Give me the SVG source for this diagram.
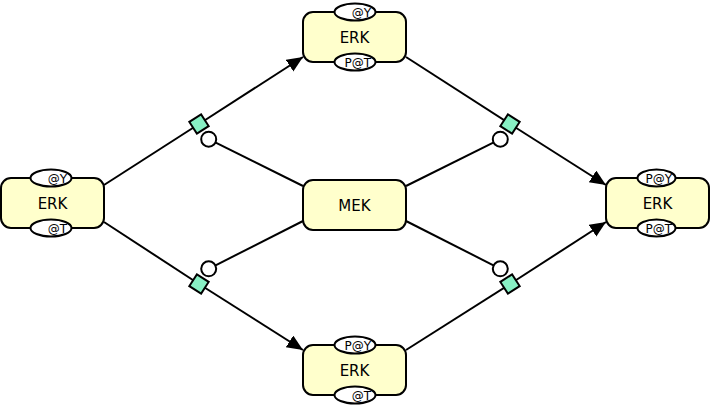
<svg xmlns="http://www.w3.org/2000/svg" width="710" height="406" viewBox="0 0 710 406">
<style>
.box{fill:#ffffcc;stroke:#000;stroke-width:2}
.sv{fill:#fff;stroke:#000;stroke-width:2}
.lbl{font-family:"DejaVu Sans",sans-serif;font-size:15px;text-anchor:middle;fill:#000}
.svt{font-family:"DejaVu Sans",sans-serif;font-size:12px;text-anchor:end;fill:#000}
.arc{stroke:#000;stroke-width:2;fill:none}
.proc{fill:#88f0c4;stroke:#000;stroke-width:2}
.cat{fill:#fff;stroke:#000;stroke-width:2}
</style>
<defs>
<marker id="arr" markerUnits="userSpaceOnUse" markerWidth="18" markerHeight="16" refX="16" refY="7" orient="auto">
<path d="M0,0 L16,7 L0,14 z" fill="#000"/>
</marker>
</defs>
<g id="connectors">
<line class="arc" x1="104" y1="185" x2="199" y2="124"/>
<line class="arc" x1="199" y1="124" x2="303" y2="57" marker-end="url(#arr)"/>
<line class="arc" x1="104" y1="222" x2="199" y2="284"/>
<line class="arc" x1="199" y1="284" x2="303" y2="350" marker-end="url(#arr)"/>
<line class="arc" x1="406" y1="57" x2="510" y2="124"/>
<line class="arc" x1="510" y1="124" x2="606" y2="185" marker-end="url(#arr)"/>
<line class="arc" x1="406" y1="350" x2="510" y2="284"/>
<line class="arc" x1="510" y1="284" x2="606" y2="222" marker-end="url(#arr)"/>
<line class="arc" x1="303" y1="186" x2="208.7" y2="139.2"/>
<line class="arc" x1="303" y1="221" x2="208.7" y2="268.8"/>
<line class="arc" x1="406" y1="186" x2="500.3" y2="139.2"/>
<line class="arc" x1="406" y1="221" x2="500.3" y2="268.8"/>
<circle class="cat" cx="208.7" cy="139.2" r="7.5"/>
<circle class="cat" cx="208.7" cy="268.8" r="7.5"/>
<circle class="cat" cx="500.3" cy="139.2" r="7.5"/>
<circle class="cat" cx="500.3" cy="268.8" r="7.5"/>
</g>
<g id="process1"><rect class="proc" x="-7" y="-7" width="14" height="14" transform="translate(199,124) rotate(-32.7)"/></g>
<g id="process2"><rect class="proc" x="-7" y="-7" width="14" height="14" transform="translate(199,284) rotate(32.7)"/></g>
<g id="process3"><rect class="proc" x="-7" y="-7" width="14" height="14" transform="translate(510,124) rotate(32.8)"/></g>
<g id="process4"><rect class="proc" x="-7" y="-7" width="14" height="14" transform="translate(510,284) rotate(-32.8)"/></g>
<g id="erk_left">
<rect class="box" x="1" y="178" width="103" height="50" rx="10"/>
<text class="lbl" x="52.5" y="209">ERK</text>
<ellipse class="sv" cx="51" cy="178" rx="20.5" ry="8.5"/>
<text class="svt" x="67" y="182.5">@Y</text>
<ellipse class="sv" cx="51" cy="228" rx="20.5" ry="8.5"/>
<text class="svt" x="67" y="232.5">@T</text>
</g>
<g id="erk_top">
<rect class="box" x="303" y="12" width="103" height="50" rx="10"/>
<text class="lbl" x="354.5" y="43">ERK</text>
<ellipse class="sv" cx="355" cy="12" rx="20.5" ry="8.5"/>
<text class="svt" x="371" y="16.5">@Y</text>
<ellipse class="sv" cx="355" cy="62" rx="20.5" ry="8.5"/>
<text class="svt" x="371" y="66.5">P@T</text>
</g>
<g id="mek">
<rect class="box" x="303" y="180" width="103" height="50" rx="10"/>
<text class="lbl" x="354.5" y="211">MEK</text>
</g>
<g id="erk_bottom">
<rect class="box" x="303" y="345" width="103" height="50" rx="10"/>
<text class="lbl" x="354.5" y="376">ERK</text>
<ellipse class="sv" cx="355" cy="345" rx="20.5" ry="8.5"/>
<text class="svt" x="371" y="349.5">P@Y</text>
<ellipse class="sv" cx="355" cy="395" rx="20.5" ry="8.5"/>
<text class="svt" x="371" y="399.5">@T</text>
</g>
<g id="erk_right">
<rect class="box" x="606" y="178" width="103" height="50" rx="10"/>
<text class="lbl" x="657.5" y="209">ERK</text>
<ellipse class="sv" cx="656.5" cy="178" rx="19" ry="8.5"/>
<text class="svt" x="672" y="182.5">P@Y</text>
<ellipse class="sv" cx="656.5" cy="228" rx="19" ry="8.5"/>
<text class="svt" x="672" y="232.5">P@T</text>
</g>
</svg>
